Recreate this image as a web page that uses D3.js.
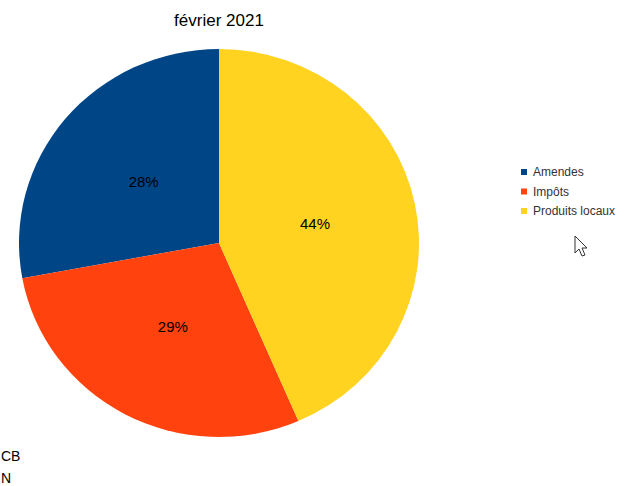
<!DOCTYPE html>
<html>
<head>
<meta charset="utf-8">
<script src="https://cdn.jsdelivr.net/npm/d3@7"></script>
<style>
  body { margin: 0; background: #fff; }
  text { font-family: "Liberation Sans", Arial, sans-serif; }
</style>
</head>
<body>
<div id="chart"></div>
<script>
// data (share of the month)
var categories = ["Amendes", "Impôts", "Produits locaux"];
var values = [27.9, 28.6, 43.5];
var colors = ["#004586", "#ff420e", "#ffd320"];
var title = "février 2021";
var footLines = ["CB", "N"];

var width = 638, height = 486;
var cx = 219, cy = 243, radius = 200;

var svg = d3.select("#chart")
  .append("svg")
  .attr("width", width)
  .attr("height", height);

// title
svg.append("text")
  .attr("x", cx)
  .attr("y", 26)
  .attr("text-anchor", "middle")
  .attr("font-size", 17)
  .attr("fill", "#000")
  .text(title);

var color = d3.scaleOrdinal().domain(categories).range(colors);

// slices go counterclockwise from 12 o'clock
var pie = d3.pie()
  .sort(null)
  .startAngle(0)
  .endAngle(-2 * Math.PI)
  .value(function (d, i) { return values[i]; });

var arcs = pie(categories);
var arc = d3.arc().innerRadius(0).outerRadius(radius);
var labelArc = d3.arc().innerRadius(0).outerRadius(radius * 0.98);
var total = d3.sum(values);

var g = svg.append("g")
  .attr("transform", "translate(" + cx + "," + cy + ") scale(1,0.97)");

g.selectAll("path")
  .data(arcs)
  .enter().append("path")
  .attr("d", arc)
  .attr("fill", function (d) { return color(d.data); });

g.selectAll("text.lbl")
  .data(arcs)
  .enter().append("text")
  .attr("class", "lbl")
  .attr("transform", function (d) {
    var c = labelArc.centroid(d);
    return "translate(" + c[0] + "," + c[1] + ") scale(1," + (1 / 0.97) + ")";
  })
  .attr("text-anchor", "middle")
  .attr("dy", "0.35em")
  .attr("font-size", 15)
  .attr("fill", "#000")
  .text(function (d) { return Math.round(d.value / total * 100) + "%"; });

// legend
var legend = svg.append("g").attr("transform", "translate(521,172)");
var rows = legend.selectAll("g")
  .data(categories)
  .enter().append("g")
  .attr("transform", function (d, i) { return "translate(0," + (i * 19.5) + ")"; });
rows.append("rect")
  .attr("x", 0).attr("y", -3)
  .attr("width", 6).attr("height", 6)
  .attr("fill", function (d) { return color(d); });
rows.append("text")
  .attr("x", 12)
  .attr("dy", "0.35em")
  .attr("font-size", 12)
  .attr("fill", "#333")
  .text(function (d) { return d; });

// stray text at bottom left
svg.selectAll("text.foot")
  .data(footLines)
  .enter().append("text")
  .attr("class", "foot")
  .attr("x", 1)
  .attr("y", function (d, i) { return 461 + i * 22; })
  .attr("font-size", 14)
  .attr("fill", "#000")
  .text(function (d) { return d; });

// mouse pointer
svg.append("path")
  .attr("transform", "translate(575,236)")
  .attr("d", "M0,0 L0,17 L4,13 L7,20 L10,19 L7,12 L12,12 Z")
  .attr("fill", "#fff")
  .attr("stroke", "#333")
  .attr("stroke-width", 1);
</script>
</body>
</html>
